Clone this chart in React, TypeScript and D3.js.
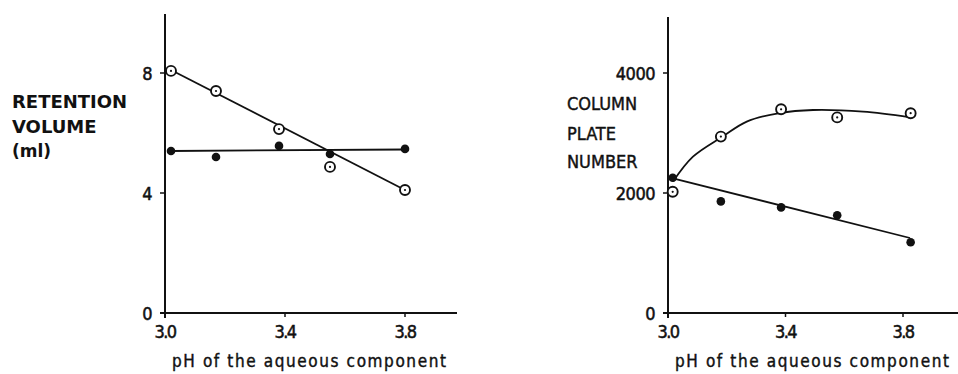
import React from "react";
import * as d3 from "d3";

// Left panel: retention volume vs pH
const phLeft = [3.02, 3.17, 3.38, 3.55, 3.8];
const retentionOpen = [8.07, 7.4, 6.13, 4.87, 4.1];
const retentionFilled = [5.4, 5.2, 5.57, 5.3, 5.47];
const retentionFitPh = [3.02, 3.8];
const retentionOpenFit = [8.1, 4.1];
const retentionFilledFit = [5.4, 5.45];
const retentionTicks = [0, 4, 8];

// Right panel: column plate number vs pH
const phRight = [3.016, 3.18, 3.385, 3.576, 3.826];
const plateOpen = [2020, 2940, 3395, 3260, 3330];
const plateFilled = [2255, 1860, 1760, 1630, 1180];
const plateCurvePh = [3.017, 3.085, 3.186, 3.268, 3.38, 3.494, 3.664, 3.824];
const plateOpenCurve = [2190, 2605, 2940, 3190, 3333, 3383, 3355, 3262];
const plateFitPh = [3.017, 3.824];
const plateFilledFit = [2245, 1250];
const plateTicks = [0, 2000, 4000];

const phTicks = [3.0, 3.4, 3.8];
const xTitle = "pH of the aqueous component";

const tickFont = "'DejaVu Sans Condensed', 'DejaVu Sans', sans-serif";

type PanelProps = {
  x0: number;
  x38: number;
  xEnd: number;
  yTop: number;
  yMax: number;
  yTicks: number[];
  ph: number[];
  open: number[];
  filled: number[];
  openLineX: number[];
  openLineY: number[];
  filledLineX: number[];
  filledLineY: number[];
  curved: boolean;
};

const Panel = (p: PanelProps) => {
  const x = d3.scaleLinear().domain([3.0, 3.8]).range([p.x0, p.x38]);
  const y = d3.scaleLinear().domain([0, p.yMax]).range([313, 73]);
  const line = d3
    .line<[number, number]>()
    .x((d) => x(d[0]))
    .y((d) => y(d[1]));
  const openLine = p.curved ? line.curve(d3.curveCatmullRom.alpha(0.5)) : line;
  const openPath = openLine(p.openLineX.map((v, i) => [v, p.openLineY[i]]) as [number, number][]);
  const filledPath = d3
    .line<[number, number]>()
    .x((d) => x(d[0]))
    .y((d) => y(d[1]))(p.filledLineX.map((v, i) => [v, p.filledLineY[i]]) as [number, number][]);

  return (
    <g>
      {/* axes */}
      <line x1={p.x0} x2={p.x0} y1={p.yTop} y2={318} stroke="#111" strokeWidth={2} />
      <line x1={p.x0 - 5} x2={p.xEnd} y1={313} y2={313} stroke="#111" strokeWidth={2} />
      {p.yTicks.map((t) => (
        <g key={t}>
          <line x1={p.x0 - 5} x2={p.x0} y1={y(t)} y2={y(t)} stroke="#111" strokeWidth={1.5} />
          <text
            x={p.x0 - 13}
            y={y(t) + 7}
            textAnchor="end"
            fontFamily={tickFont}
            fontSize={18}
            letterSpacing={-0.5}
            stroke="#111"
            strokeWidth={0.5}
            fill="#111"
          >
            {t}
          </text>
        </g>
      ))}
      {phTicks.map((t) => (
        <g key={t}>
          <line x1={x(t)} x2={x(t)} y1={313} y2={317} stroke="#111" strokeWidth={1.5} />
          <text
            x={x(t)}
            y={338}
            textAnchor="middle"
            fontFamily={tickFont}
            fontSize={18}
            letterSpacing={-1.5}
            stroke="#111"
            strokeWidth={0.5}
            fill="#111"
          >
            {t.toFixed(1)}
          </text>
        </g>
      ))}
      <text
        x={p.x0 + 7}
        y={367}
        fontFamily={tickFont}
        fontSize={17}
        textLength={274}
        lengthAdjust="spacing"
        stroke="#111"
        strokeWidth={0.4}
        fill="#111"
      >
        {xTitle}
      </text>

      {/* fitted lines */}
      <path d={openPath ?? ""} fill="none" stroke="#111" strokeWidth={1.8} />
      <path d={filledPath ?? ""} fill="none" stroke="#111" strokeWidth={1.8} />

      {/* points */}
      {p.ph.map((v, i) => (
        <g key={"o" + i}>
          <circle cx={x(v)} cy={y(p.open[i])} r={5} fill="#fff" stroke="#111" strokeWidth={1.9} />
          <circle cx={x(v)} cy={y(p.open[i])} r={1.1} fill="#111" />
        </g>
      ))}
      {p.ph.map((v, i) => (
        <circle key={"f" + i} cx={x(v)} cy={y(p.filled[i])} r={4.3} fill="#111" />
      ))}
    </g>
  );
};

export default function App() {
  return (
    <svg
      width={958}
      height={374}
      style={{ position: "absolute", left: 0, top: 0, background: "#fff" }}
    >
      <Panel
        x0={165}
        x38={405}
        xEnd={457}
        yTop={14}
        yMax={8}
        yTicks={retentionTicks}
        ph={phLeft}
        open={retentionOpen}
        filled={retentionFilled}
        openLineX={retentionFitPh}
        openLineY={retentionOpenFit}
        filledLineX={retentionFitPh}
        filledLineY={retentionFilledFit}
        curved={false}
      />
      <Panel
        x0={668}
        x38={903}
        xEnd={958}
        yTop={17}
        yMax={4000}
        yTicks={plateTicks}
        ph={phRight}
        open={plateOpen}
        filled={plateFilled}
        openLineX={plateCurvePh}
        openLineY={plateOpenCurve}
        filledLineX={plateFitPh}
        filledLineY={plateFilledFit}
        curved={true}
      />

      {/* left y label */}
      <g fontFamily="'DejaVu Sans', sans-serif" fontWeight="bold" fontSize={18} fill="#111">
        <text x={12} y={108}>RETENTION</text>
        <text x={12} y={133}>VOLUME</text>
        <text x={12} y={157} fontSize={17}>(ml)</text>
      </g>

      {/* right y label */}
      <g fontFamily={tickFont} fontSize={18} fill="#111" stroke="#111" strokeWidth={0.4}>
        <text x={567} y={110}>COLUMN</text>
        <text x={567} y={140}>PLATE</text>
        <text x={567} y={168}>NUMBER</text>
      </g>
    </svg>
  );
}
